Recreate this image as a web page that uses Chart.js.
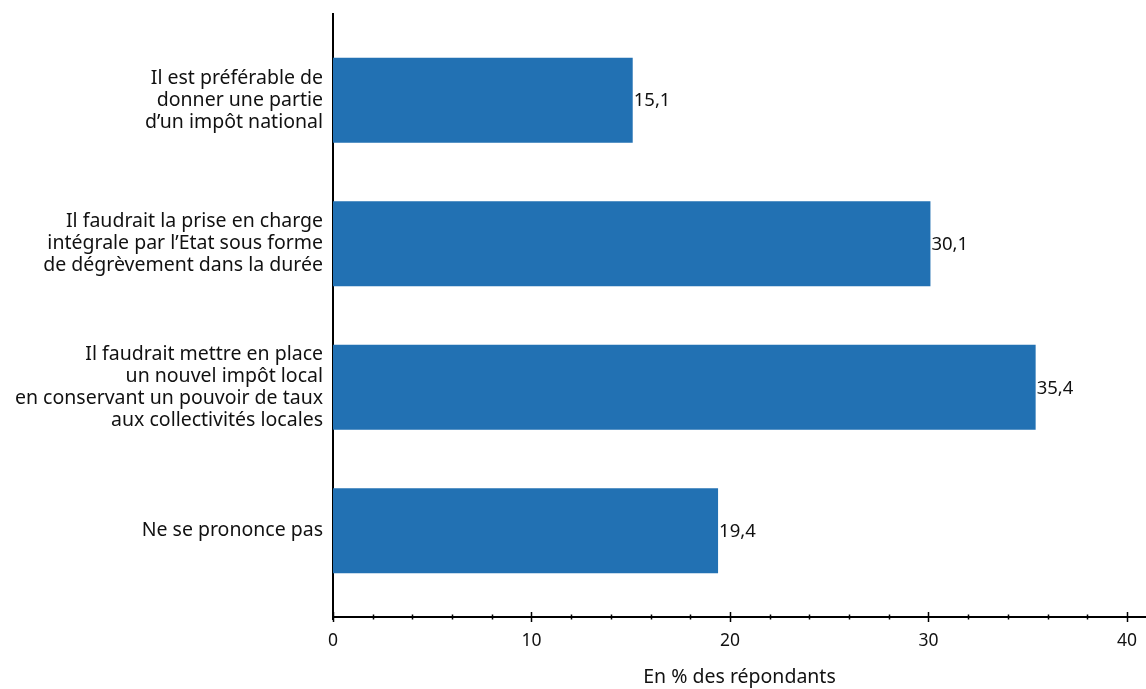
<!DOCTYPE html>
<html>
<head>
<meta charset="utf-8">
<script src="https://cdn.jsdelivr.net/npm/chart.js@4.4.1/dist/chart.umd.min.js"></script>
<style>
  html, body { margin: 0; padding: 0; background: #ffffff; }
  #wrap { width: 1146px; height: 689px; position: relative; }
</style>
</head>
<body>
<div id="wrap"><canvas id="c"></canvas></div>
<script>
// ---- data ----
const categories = [
  ["Il est préférable de", "donner une partie", "d’un impôt national"],
  ["Il faudrait la prise en charge", "intégrale par l’Etat sous forme", "de dégrèvement dans la durée"],
  ["Il faudrait mettre en place", "un nouvel impôt local", "en conservant un pouvoir de taux", "aux collectivités locales"],
  ["Ne se prononce pas"]
];
const values = [15.1, 30.1, 35.4, 19.4];
const xTickValues = [0, 2, 4, 6, 8, 10, 12, 14, 16, 18, 20, 22, 24, 26, 28, 30, 32, 34, 36, 38, 40];
const xTickLabels = ["0", "10", "20", "30", "40"];
const xAxisTitle = "En % des répondants";

const FONT = "'Noto Sans', sans-serif";
const BAR_COLOR = "#2271b3";

const points = values.map((v, i) => ({ x: v, y: i }));

const valueLabelPlugin = {
  id: 'valueLabels',
  afterDatasetsDraw(chart) {
    const ctx = chart.ctx;
    const meta = chart.getDatasetMeta(0);
    ctx.save();
    ctx.font = "18.5px " + FONT;
    ctx.fillStyle = "#111111";
    ctx.textAlign = "left";
    ctx.textBaseline = "middle";
    meta.data.forEach((bar, i) => {
      ctx.fillText(values[i].toFixed(1).replace('.', ','), bar.x + 1, bar.y + 1);
    });
    ctx.restore();
  }
};

const tickMarkPlugin = {
  id: 'tickMarks',
  afterDraw(chart) {
    const ctx = chart.ctx;
    const xs = chart.scales.x;
    const y0 = chart.chartArea.bottom;
    ctx.save();
    ctx.strokeStyle = "#000000";
    ctx.lineWidth = 1.5;
    xs.ticks.forEach(t => {
      const px = Math.round(xs.getPixelForValue(t.value)) + 0.5;
      const major = t.value % 10 === 0;
      const len = major ? 5 : 2.5;
      ctx.beginPath();
      ctx.moveTo(px, y0 - len);
      ctx.lineTo(px, y0 + len);
      ctx.stroke();
    });
    // extend the vertical axis a little below the horizontal one
    ctx.lineWidth = 2;
    ctx.beginPath();
    ctx.moveTo(chart.chartArea.left, y0);
    ctx.lineTo(chart.chartArea.left, y0 + 3);
    ctx.stroke();
    ctx.restore();
  }
};

new Chart(document.getElementById('c'), {
  type: 'bar',
  data: {
    datasets: [{
      data: points,
      backgroundColor: BAR_COLOR,
      borderWidth: 0,
      barPercentage: 0.592,
      categoryPercentage: 1
    }]
  },
  options: {
    indexAxis: 'y',
    responsive: true,
    maintainAspectRatio: false,
    animation: false,
    layout: { padding: { top: 14, right: 0, left: 0, bottom: 0 } },
    plugins: {
      legend: { display: false },
      tooltip: { enabled: false }
    },
    scales: {
      x: {
        type: 'linear',
        min: 0,
        max: 40.96,
        afterBuildTicks(scale) {
          scale.ticks = xTickValues.map(v => ({ value: v }));
        },
        afterFit(scale) {
          scale.height = 72;
          scale.paddingLeft = 0;
          scale.paddingRight = 0;
        },
        ticks: {
          autoSkip: false,
          maxRotation: 0,
          padding: 13.5,
          color: "#111111",
          font: { family: FONT, size: 17.5 },
          callback(v) {
            return v % 10 === 0 ? xTickLabels[v / 10] : '';
          }
        },
        grid: { display: false, drawTicks: false },
        border: { display: true, color: "#000000", width: 2 },
        title: {
          display: true,
          text: xAxisTitle,
          color: "#111111",
          font: { family: FONT, size: 19.5 },
          padding: { top: 14, bottom: 0 }
        }
      },
      y: {
        type: 'linear',
        reverse: true,
        offset: false,
        min: -0.6,
        max: 3.6,
        afterBuildTicks(scale) {
          scale.ticks = categories.map((_, i) => ({ value: i }));
        },
        afterFit(scale) {
          scale.width = 333;
          scale.paddingTop = 0;
          scale.paddingBottom = 0;
        },
        ticks: {
          autoSkip: false,
          padding: 10,
          color: "#111111",
          font: { family: FONT, size: 19.5, lineHeight: 1.12 },
          callback(v) {
            return categories[v] || '';
          }
        },
        grid: { display: false, drawTicks: false, offset: false },
        border: { display: true, color: "#000000", width: 2 }
      }
    }
  },
  plugins: [valueLabelPlugin, tickMarkPlugin]
});
</script>
</body>
</html>
